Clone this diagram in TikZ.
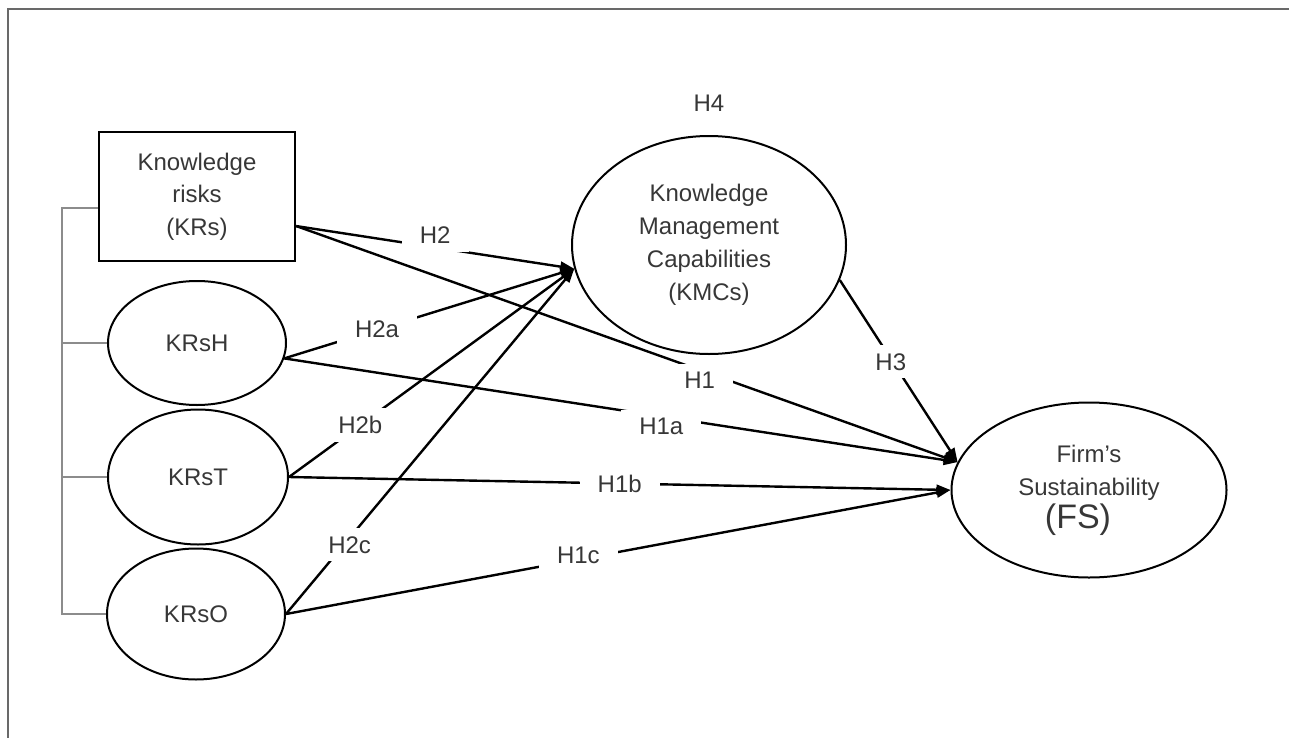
\documentclass[tikz,border=0pt]{standalone}
\usepackage{fontspec}
\setmainfont{Liberation Sans}
\usetikzlibrary{shapes.geometric,arrows.meta,calc}

\definecolor{txtgray}{RGB}{55,55,55}
\definecolor{bargray}{RGB}{140,140,140}
\definecolor{framegray}{RGB}{105,105,105}

\tikzset{
  construct/.style={draw,ellipse,line width=1pt,inner sep=0pt,text=txtgray,align=center,font=\fontsize{12}{16.5}\selectfont},
  riskbox/.style={draw,rectangle,line width=1.2pt,inner sep=0pt,text=txtgray,align=center,font=\fontsize{12}{16.25}\selectfont},
  hyp/.style={line width=1.2pt,-{Triangle[length=7pt,width=5pt]}},
  hyplabel/.style={fill=white,text=txtgray,inner xsep=9pt,inner ysep=4pt,font=\fontsize{12}{14}\selectfont},
  bracket/.style={bargray,line width=1pt},
}

\begin{document}
\begin{tikzpicture}[x=0.5pt,y=0.5pt,yscale=-1,xscale=1]
\useasboundingbox (0,0) rectangle (1289,738);
\draw[framegray,line width=1pt] (1289,9) -- (8,9) -- (8,738);

% constructs
\node[riskbox,minimum width=98pt,minimum height=64.5pt] (KRs) at (197,196.5) {Knowledge\\risks\\(KRs)};
\node[construct,minimum width=89pt,minimum height=62pt] (KRsH) at (197,343) {KRsH};
\node[construct,minimum width=90pt,minimum height=67.5pt] (KRsT) at (198,477) {KRsT};
\node[construct,minimum width=89pt,minimum height=65.5pt] (KRsO) at (196,614) {KRsO};
\node[construct,minimum width=137pt,minimum height=109pt] (KMC) at (709,245) {Knowledge\\Management\\Capabilities\\(KMCs)};
\node[construct,minimum width=137.5pt,minimum height=87.5pt] (FS) at (1089,490) {Firm’s\\Sustainability\\{\fontsize{17}{21}\selectfont (FS)}\hspace*{11pt}};
\node[text=txtgray,font=\fontsize{12}{14}\selectfont] (H4) at (709,103) {H4};

% dimension bracket
\coordinate (bus) at (63,400);
\draw[bracket] ($(KRs.west)!0.17!(KRs.south west)$) -- +(-36,0) |- (KRsO.west);
\foreach \n in {KRsH,KRsT}
  \draw[bracket] (\n.west -| bus) -- (\n.west);

% hypotheses
\coordinate (KRsout) at ($(KRs.east)!0.45!(KRs.south east)$);
\draw[hyp] (KRsout) -- node[hyplabel,pos=0.5,yshift=6pt] {H2} (KMC.190);
\draw[hyp] (KRsout) -- node[hyplabel,pos=0.61,yshift=-5pt] {H1} (FS.168);
\draw[hyp] (KRsH.-10) -- node[hyplabel,pos=0.32] {H2a} (KMC.190);
\draw[hyp] (KRsH.-10) -- node[hyplabel,pos=0.56,yshift=-5pt] {H1a} (FS.168);
\draw[hyp] (KRsT.east) -- node[hyplabel,pos=0.25] {H2b} (KMC.190);
\draw[hyp] (KRsT.east) -- node[hyplabel,pos=0.5] {H1b} (FS.west);
\draw[hyp] (KRsO.east) -- node[hyplabel,pos=0.2,xshift=3pt] {H2c} (KMC.190);
\draw[hyp] (KRsO.east) -- node[hyplabel,pos=0.44,yshift=2pt] {H1c} (FS.west);
\draw[hyp] (KMC.345) -- node[hyplabel,pos=0.45,xshift=-1pt] {H3} (FS.168);
\end{tikzpicture}
\end{document}
